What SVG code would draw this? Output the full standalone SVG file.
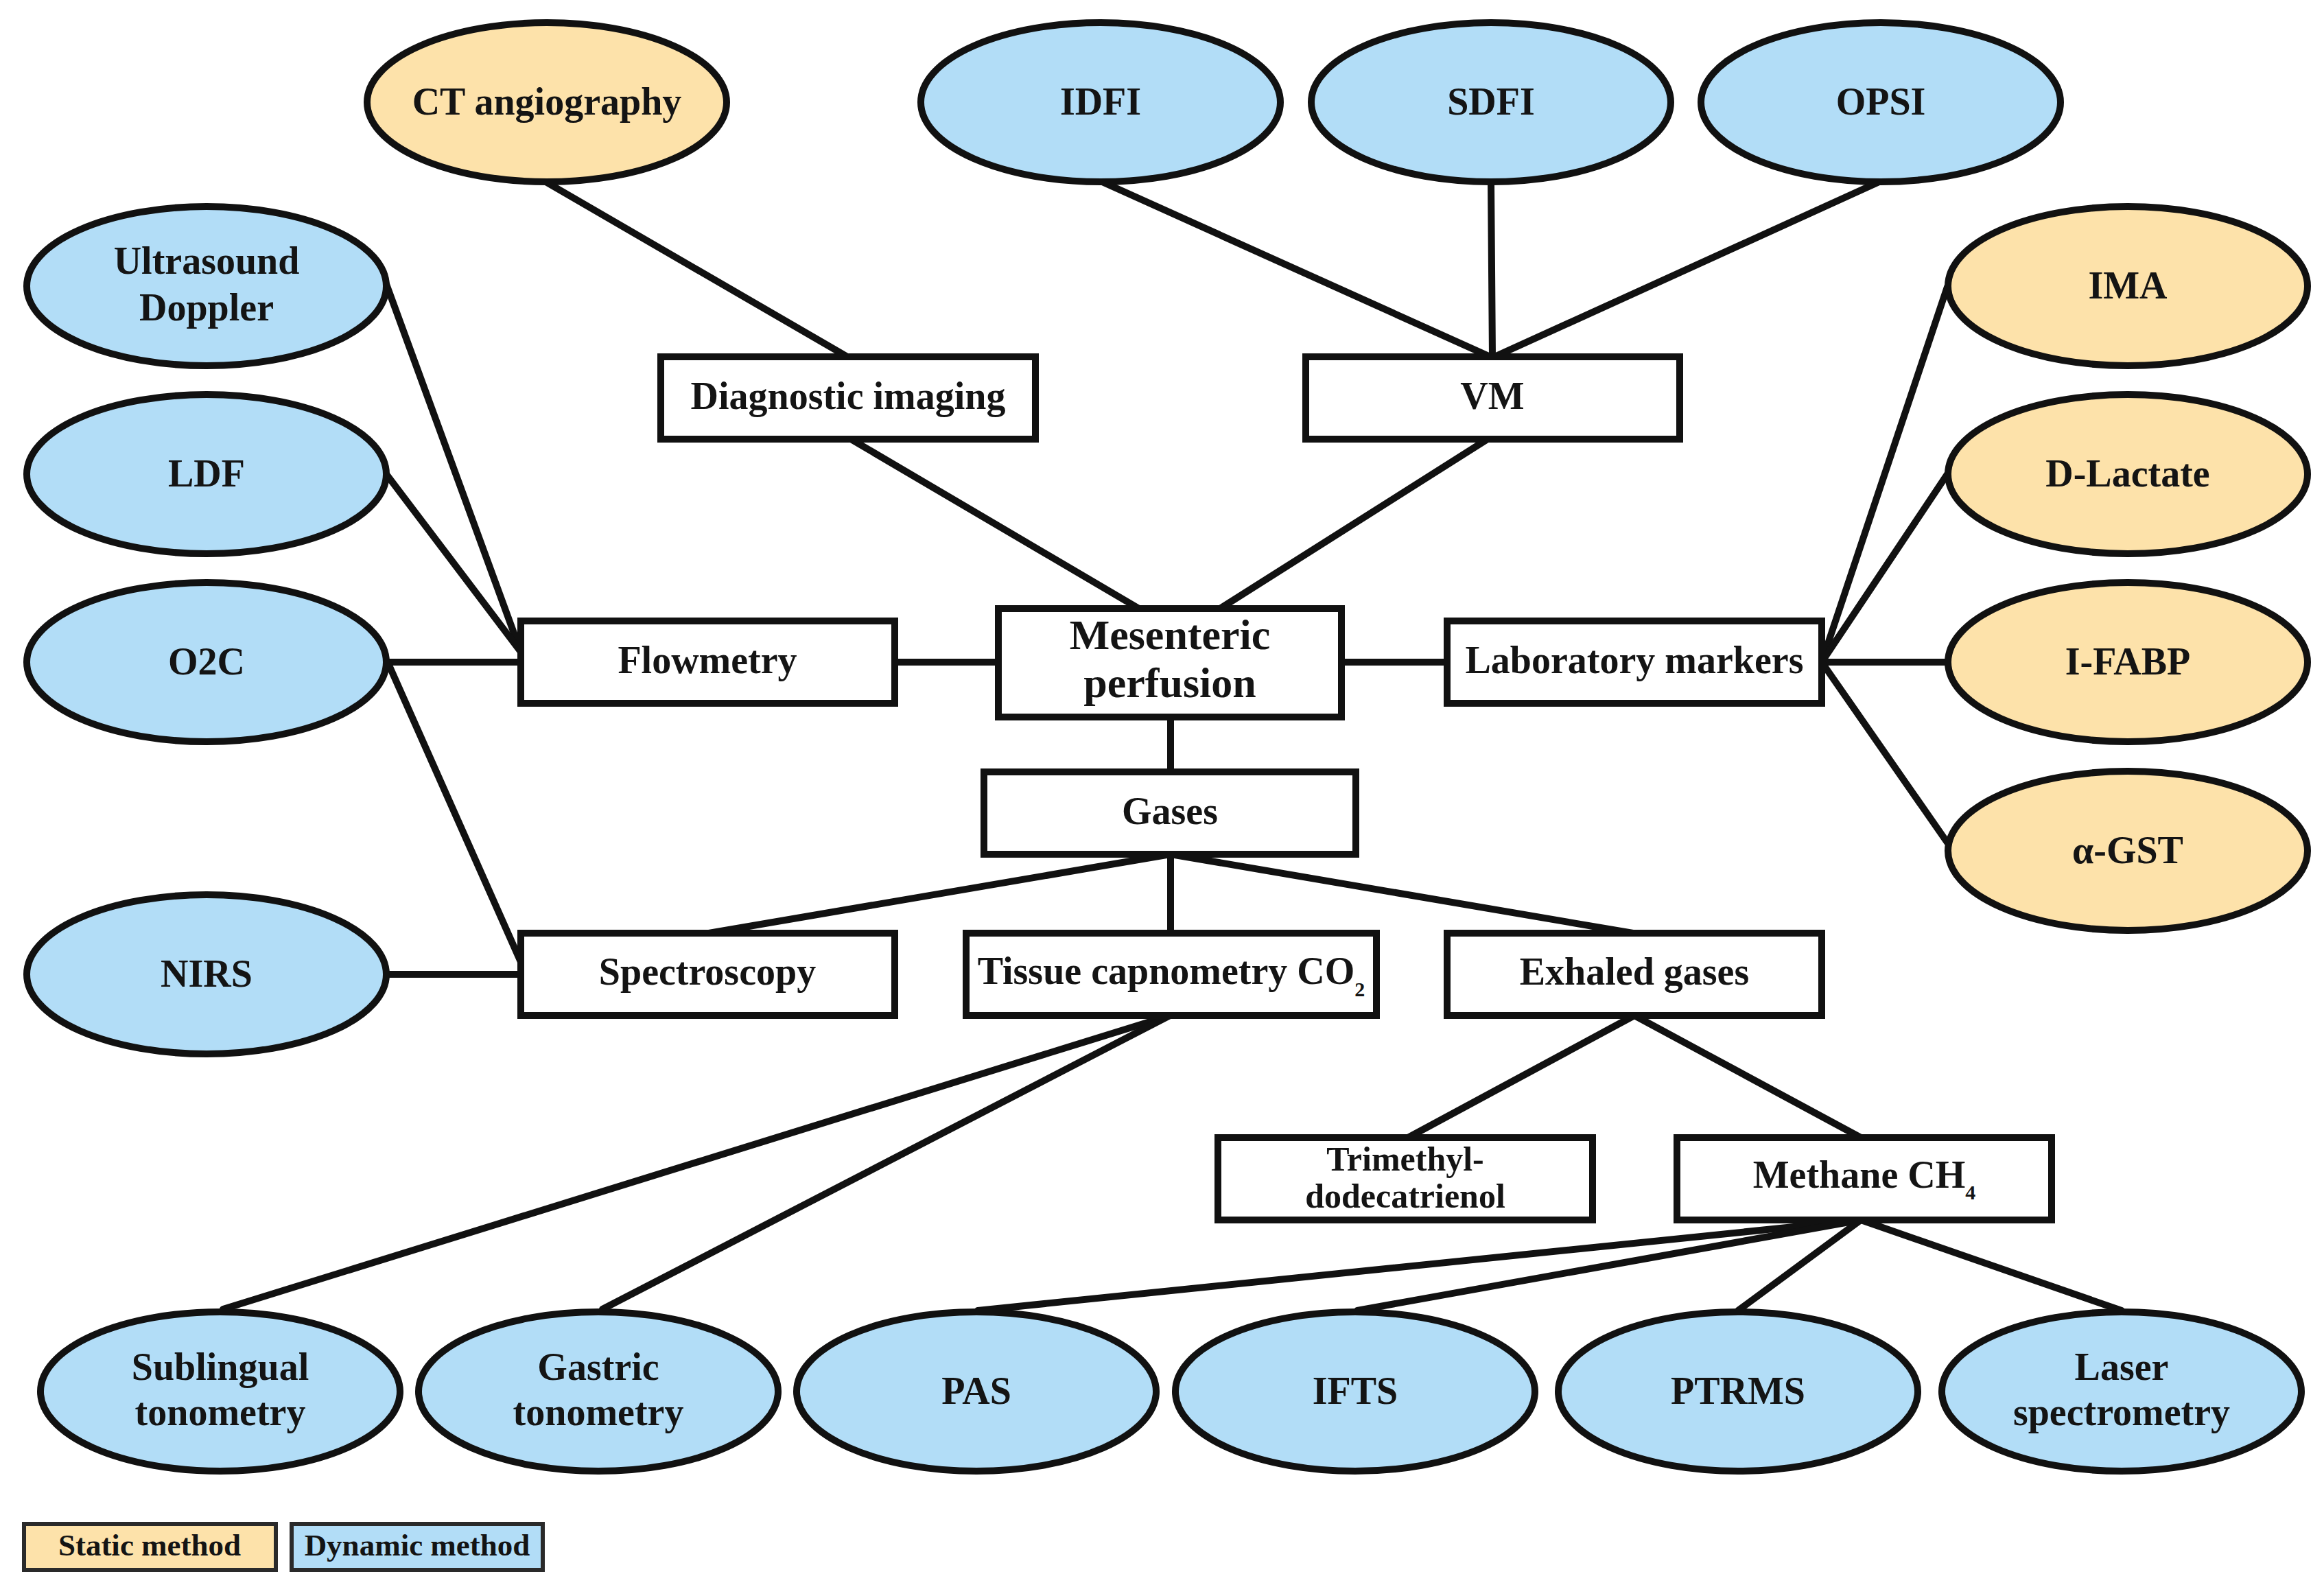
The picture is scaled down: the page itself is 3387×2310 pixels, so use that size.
<svg xmlns="http://www.w3.org/2000/svg" width="3387" height="2310" viewBox="0 0 3387 2310">
<style>
.e{stroke:#111;stroke-width:10}
.dyn{fill:#B2DDF7}
.sta{fill:#FDE2AA}
.r{fill:#fff;stroke:#111;stroke-width:10}
.lg{stroke:#2a2a2a;stroke-width:6}
.c line{stroke:#111;stroke-width:10;stroke-linecap:round}
text{font-family:"Liberation Serif","Times New Roman",serif;font-weight:bold;font-size:56px;fill:#141414;text-anchor:middle}
.big{font-size:62px}
.tri{font-size:50px}
.leg{font-size:45px}
</style>
<rect width="3387" height="2310" fill="#fff"/>
<g id="connectors" class="c">
<line x1="797" y1="266" x2="1235" y2="520"/>
<line x1="1240" y1="640" x2="1660" y2="887"/>
<line x1="1604" y1="264" x2="2172" y2="520"/>
<line x1="2173" y1="264" x2="2175" y2="520"/>
<line x1="2741" y1="264" x2="2178" y2="520"/>
<line x1="2168" y1="640" x2="1778" y2="887"/>
<line x1="563" y1="414" x2="759" y2="950"/>
<line x1="563" y1="691" x2="759" y2="950"/>
<line x1="565" y1="965" x2="759" y2="965"/>
<line x1="565" y1="965" x2="759" y2="1402"/>
<line x1="565" y1="1420" x2="759" y2="1420"/>
<line x1="1304" y1="965" x2="1455" y2="965"/>
<line x1="1955" y1="965" x2="2109" y2="965"/>
<line x1="2655" y1="965" x2="2838" y2="418"/>
<line x1="2655" y1="965" x2="2838" y2="691"/>
<line x1="2655" y1="965" x2="2838" y2="965"/>
<line x1="2655" y1="965" x2="2838" y2="1228"/>
<line x1="1706" y1="1045" x2="1706" y2="1125"/>
<line x1="1706" y1="1245" x2="1033" y2="1360"/>
<line x1="1706" y1="1245" x2="1706" y2="1360"/>
<line x1="1706" y1="1245" x2="2380" y2="1360"/>
<line x1="1705" y1="1480" x2="325" y2="1908"/>
<line x1="1705" y1="1480" x2="878" y2="1908"/>
<line x1="2382" y1="1480" x2="2052" y2="1658"/>
<line x1="2382" y1="1480" x2="2712" y2="1658"/>
<line x1="2712" y1="1778" x2="1425" y2="1910"/>
<line x1="2712" y1="1778" x2="1978" y2="1910"/>
<line x1="2712" y1="1778" x2="2533" y2="1910"/>
<line x1="2712" y1="1778" x2="3092" y2="1910"/>
</g>
<g id="ct-angiography"><ellipse class="e sta" cx="797" cy="149" rx="262" ry="116"/><text x="797" y="167">CT angiography</text></g>
<g id="idfi"><ellipse class="e dyn" cx="1604" cy="149" rx="262" ry="116"/><text x="1604" y="167">IDFI</text></g>
<g id="sdfi"><ellipse class="e dyn" cx="2173" cy="149" rx="262" ry="116"/><text x="2173" y="167">SDFI</text></g>
<g id="opsi"><ellipse class="e dyn" cx="2741" cy="149" rx="262" ry="116"/><text x="2741" y="167">OPSI</text></g>
<g id="ultrasound-doppler"><ellipse class="e dyn" cx="301" cy="417" rx="262" ry="116"/><text x="301" y="399">Ultrasound</text><text x="301" y="467">Doppler</text></g>
<g id="ldf"><ellipse class="e dyn" cx="301" cy="691" rx="262" ry="116"/><text x="301" y="709">LDF</text></g>
<g id="o2c"><ellipse class="e dyn" cx="301" cy="965" rx="262" ry="116"/><text x="301" y="983">O2C</text></g>
<g id="nirs"><ellipse class="e dyn" cx="301" cy="1420" rx="262" ry="116"/><text x="301" y="1438">NIRS</text></g>
<g id="ima"><ellipse class="e sta" cx="3101" cy="417" rx="262" ry="116"/><text x="3101" y="435">IMA</text></g>
<g id="d-lactate"><ellipse class="e sta" cx="3101" cy="691" rx="262" ry="116"/><text x="3101" y="709">D-Lactate</text></g>
<g id="i-fabp"><ellipse class="e sta" cx="3101" cy="965" rx="262" ry="116"/><text x="3101" y="983">I-FABP</text></g>
<g id="a-gst"><ellipse class="e sta" cx="3101" cy="1240" rx="262" ry="116"/><text x="3101" y="1258">α-GST</text></g>
<g id="sublingual-tonometry"><ellipse class="e dyn" cx="321" cy="2028" rx="262" ry="116"/><text x="321" y="2011">Sublingual</text><text x="321" y="2077">tonometry</text></g>
<g id="gastric-tonometry"><ellipse class="e dyn" cx="872" cy="2028" rx="262" ry="116"/><text x="872" y="2011">Gastric</text><text x="872" y="2077">tonometry</text></g>
<g id="pas"><ellipse class="e dyn" cx="1423" cy="2028" rx="262" ry="116"/><text x="1423" y="2046">PAS</text></g>
<g id="ifts"><ellipse class="e dyn" cx="1975" cy="2028" rx="262" ry="116"/><text x="1975" y="2046">IFTS</text></g>
<g id="ptrms"><ellipse class="e dyn" cx="2533" cy="2028" rx="262" ry="116"/><text x="2533" y="2046">PTRMS</text></g>
<g id="laser-spectrometry"><ellipse class="e dyn" cx="3092" cy="2028" rx="262" ry="116"/><text x="3092" y="2011">Laser</text><text x="3092" y="2077">spectrometry</text></g>
<g id="diagnostic-imaging"><rect class="r" x="963" y="520" width="546" height="120"/><text x="1236" y="596">Diagnostic imaging</text></g>
<g id="vm"><rect class="r" x="1903" y="520" width="545" height="120"/><text x="2175" y="596">VM</text></g>
<g id="flowmetry"><rect class="r" x="759" y="905" width="545" height="120"/><text x="1031" y="981">Flowmetry</text></g>
<g id="mesenteric-perfusion"><rect class="r" x="1455" y="887" width="500" height="158"/><text class="big" x="1705" y="946">Mesenteric</text><text class="big" x="1705" y="1016">perfusion</text></g>
<g id="laboratory-markers"><rect class="r" x="2109" y="905" width="546" height="120"/><text x="2382" y="981">Laboratory markers</text></g>
<g id="gases"><rect class="r" x="1434" y="1125" width="542" height="120"/><text x="1705" y="1201">Gases</text></g>
<g id="spectroscopy"><rect class="r" x="759" y="1360" width="545" height="120"/><text x="1031" y="1435">Spectroscopy</text></g>
<g id="tissue-capnometry"><rect class="r" x="1408" y="1360" width="598" height="120"/><text x="1707" y="1434">Tissue capnometry CO<tspan font-size="30" dy="18">2</tspan></text></g>
<g id="exhaled-gases"><rect class="r" x="2109" y="1360" width="546" height="120"/><text x="2382" y="1435">Exhaled gases</text></g>
<g id="trimethyl-dodecatrienol"><rect class="r" x="1775" y="1658" width="546" height="120"/><text class="tri" x="2048" y="1706">Trimethyl-</text><text class="tri" x="2048" y="1760">dodecatrienol</text></g>
<g id="methane"><rect class="r" x="2444" y="1658" width="546" height="120"/><text x="2717" y="1731">Methane CH<tspan font-size="30" dy="17">4</tspan></text></g>
<g id="legend">
<rect class="lg sta" x="35" y="2221" width="367" height="67"/><text class="leg" x="218" y="2267">Static method</text>
<rect class="lg dyn" x="425" y="2221" width="366" height="67"/><text class="leg" x="608" y="2267">Dynamic method</text>
</g>
</svg>
